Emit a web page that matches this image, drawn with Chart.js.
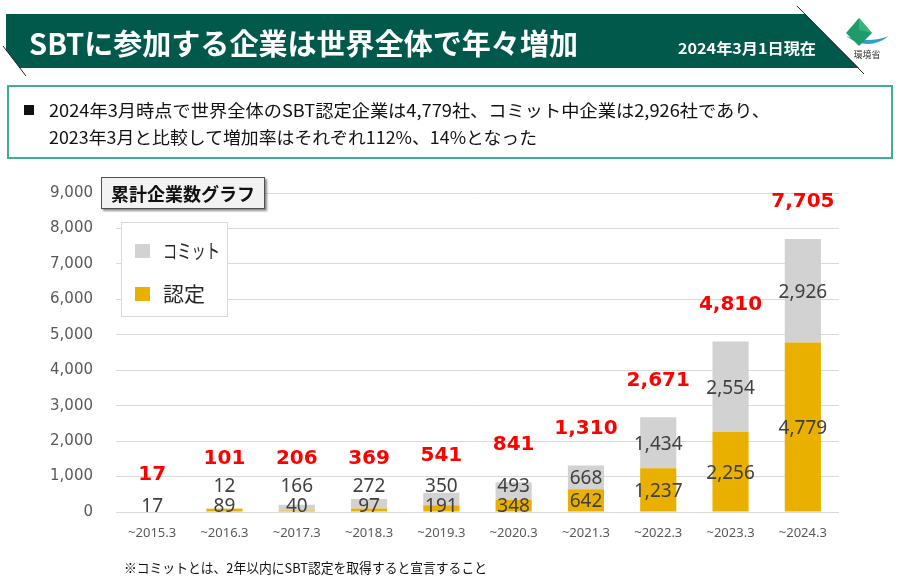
<!DOCTYPE html>
<html lang="ja">
<head>
<meta charset="utf-8">
<title>SBTに参加する企業は世界全体で年々増加</title>
<script src="https://cdn.jsdelivr.net/npm/chart.js@4.4.1/dist/chart.umd.min.js"></script>
<style>
  html, body { margin: 0; padding: 0; background: #fff; }
  body {
    width: 904px; height: 580px; position: relative; overflow: hidden;
    font-family: "Noto Sans CJK JP", "Noto Sans", sans-serif;
  }
  #chartWrap { position: absolute; left: 0; top: 0; width: 904px; height: 580px; }
  #header { position: absolute; left: 0; top: 0; }
  .fit { position: absolute; white-space: nowrap; line-height: 1; transform-origin: 0 50%; }
  #title { left: 29px; top: 28px; font-size: 29px; font-weight: 700; color: #fff; }
  #asOf { left: 678px; top: 40px; font-size: 15px; font-weight: 700; color: #fff; }
  #infoBox {
    position: absolute; left: 7px; top: 85px; width: 886px; height: 74px;
    box-sizing: border-box; border: 2px solid #41ae94; background: #fff;
  }
  #bullet { position: absolute; left: 24px; top: 105px; width: 10px; height: 10px; background: #111; }
  #line1 { left: 49px; top: 101px; font-size: 17px; color: #111; }
  #line2 { left: 49px; top: 128px; font-size: 17px; color: #111; }
  #graphTitle {
    position: absolute; left: 101px; top: 177px; width: 164px; height: 32px;
    box-sizing: border-box; border: 1px solid #505050; background: #f2f2f2;
    box-shadow: 2px 2px 2px rgba(0,0,0,0.45);
    font-size: 18px; font-weight: 700; color: #111; text-align: center; line-height: 30px;
  }
  #legend {
    position: absolute; left: 121px; top: 222px; width: 107px; height: 95px;
    box-sizing: border-box; border: 1px solid #d9d9d9; background: #fff;
  }
  .swatch { position: absolute; left: 13px; width: 15px; height: 14px; }
  .legText { font-size: 20px; color: #262626; }
  #note { left: 124px; top: 561px; font-size: 13.5px; color: #111; }
</style>
</head>
<body>
<div id="chartWrap"><canvas id="sbtChart"></canvas></div>

<svg id="header" width="904" height="80">
  <polygon points="6,14 805,14 859,68 20,68 6,50" fill="#00594b"/>
  <line x1="3" y1="46" x2="26" y2="76" stroke="#222" stroke-width="1"/>
  <line x1="797" y1="6" x2="864" y2="74" stroke="#222" stroke-width="1"/>
  <!-- logo -->
  <path d="M846,36 Q868,52 889,36 Q868,44 846,36 Z" fill="#2f9fd0"/>
  <polygon points="859,18 872,33 859,46 846,33" fill="#1f9a6a"/>
  <polygon points="859,18 872,33 859,30" fill="#39b27f"/>
  <text x="867" y="58" font-size="9" text-anchor="middle" fill="#333" font-family="Noto Sans CJK JP">環境省</text>
</svg>
<div id="title" class="fit">SBTに参加する企業は世界全体で年々増加</div>
<div id="asOf" class="fit">2024年3月1日現在</div>

<div id="infoBox"></div>
<div id="bullet"></div>
<div id="line1" class="fit">2024年3月時点で世界全体のSBT認定企業は4,779社、コミット中企業は2,926社であり、</div>
<div id="line2" class="fit">2023年3月と比較して増加率はそれぞれ112%、14%となった</div>

<div id="graphTitle">累計企業数グラフ</div>
<div id="legend">
  <div class="swatch" style="top:21px;background:#d2d2d2"></div>
  <div id="legCommit" class="fit legText" style="left:41px;top:18px">コミット</div>
  <div class="swatch" style="top:64px;background:#e9b000"></div>
  <div id="legCert" class="fit legText" style="left:41px;top:61px">認定</div>
</div>

<div id="note" class="fit">※コミットとは、2年以内にSBT認定を取得すると宣言すること</div>

<script>
// Chart data
const categories = ['~2015.3', '~2016.3', '~2017.3', '~2018.3', '~2019.3',
                    '~2020.3', '~2021.3', '~2022.3', '~2023.3', '~2024.3'];
const certified = [17, 89, 40, 97, 191, 348, 642, 1237, 2256, 4779];
const commit = [0, 12, 166, 272, 350, 493, 668, 1434, 2554, 2926];
const yMax = 9000;
const yStep = 1000;

// Squeeze a text element to the width it has in the reference
function fitText(id, width) {
    const el = document.getElementById(id);
    const w = el.getBoundingClientRect().width;
    el.style.transform = 'scaleX(' + (width / w) + ')';
}

function fmt(n) {
    return n.toLocaleString('en-US');
}

// Draws segment values and red totals above each bar
const valueLabels = {
    id: 'valueLabels',
    afterDatasetsDraw(chart) {
        const ctx = chart.ctx;
        const certMeta = chart.getDatasetMeta(0);
        const commitMeta = chart.getDatasetMeta(1);
        ctx.save();
        ctx.textAlign = 'center';
        ctx.textBaseline = 'middle';
        categories.forEach((c, i) => {
            const cb = certMeta.data[i];
            const mb = commitMeta.data[i];
            const x = cb.x;
            ctx.font = '19px "Noto Sans"';
            ctx.fillStyle = '#404040';
            const certY = Math.min((cb.y + cb.base) / 2 + 1.5, chart.chartArea.bottom - 5.5);
            ctx.fillText(fmt(certified[i]), x, certY);
            let topLabel = certY;
            if (commit[i] > 0) {
                const commitY = Math.min((mb.y + mb.base) / 2 + 1.5, certY - 20);
                ctx.fillText(fmt(commit[i]), x, commitY);
                topLabel = commitY;
            }
            const totalY = Math.min(mb.y - 37, topLabel - 28);
            ctx.font = 'bold 20px "DejaVu Sans"';
            ctx.fillStyle = '#ff0000';
            ctx.fillText(fmt(certified[i] + commit[i]), x, totalY);
        });
        ctx.restore();
    }
};

document.addEventListener('DOMContentLoaded', function() {
    fitText('title', 549);
    fitText('asOf', 138);
    fitText('line1', 721);
    fitText('line2', 488);
    fitText('note', 363);
    fitText('legCommit', 57);
    fitText('legCert', 42);

    const ctx = document.getElementById('sbtChart').getContext('2d');
    new Chart(ctx, {
        type: 'bar',
        data: {
            labels: categories,
            datasets: [{
                label: '認定',
                data: certified,
                backgroundColor: '#e9b000',
                categoryPercentage: 1,
                barPercentage: 0.5
            }, {
                label: 'コミット',
                data: commit,
                backgroundColor: '#d2d2d2',
                categoryPercentage: 1,
                barPercentage: 0.5
            }]
        },
        options: {
            responsive: true,
            maintainAspectRatio: false,
            animation: false,
            layout: { padding: { left: 0, top: 193, right: 65, bottom: 0 } },
            plugins: {
                legend: { display: false },
                tooltip: { enabled: false }
            },
            scales: {
                x: {
                    stacked: true,
                    grid: { display: false, drawTicks: false },
                    border: { display: false },
                    ticks: {
                        color: '#595959',
                        font: { family: 'Noto Sans', size: 13 },
                        padding: 13,
                        maxRotation: 0
                    },
                    afterFit(scale) { scale.height = 68; }
                },
                y: {
                    stacked: true,
                    min: 0,
                    max: yMax,
                    grid: { color: '#d9d9d9', drawTicks: false },
                    border: { display: false },
                    ticks: {
                        stepSize: yStep,
                        color: '#595959',
                        font: { family: 'DejaVu Sans', size: 15 },
                        padding: 23,
                        callback: v => fmt(v)
                    },
                    afterFit(scale) { scale.width = 116; }
                }
            }
        },
        plugins: [valueLabels]
    });
});
</script>
</body>
</html>
